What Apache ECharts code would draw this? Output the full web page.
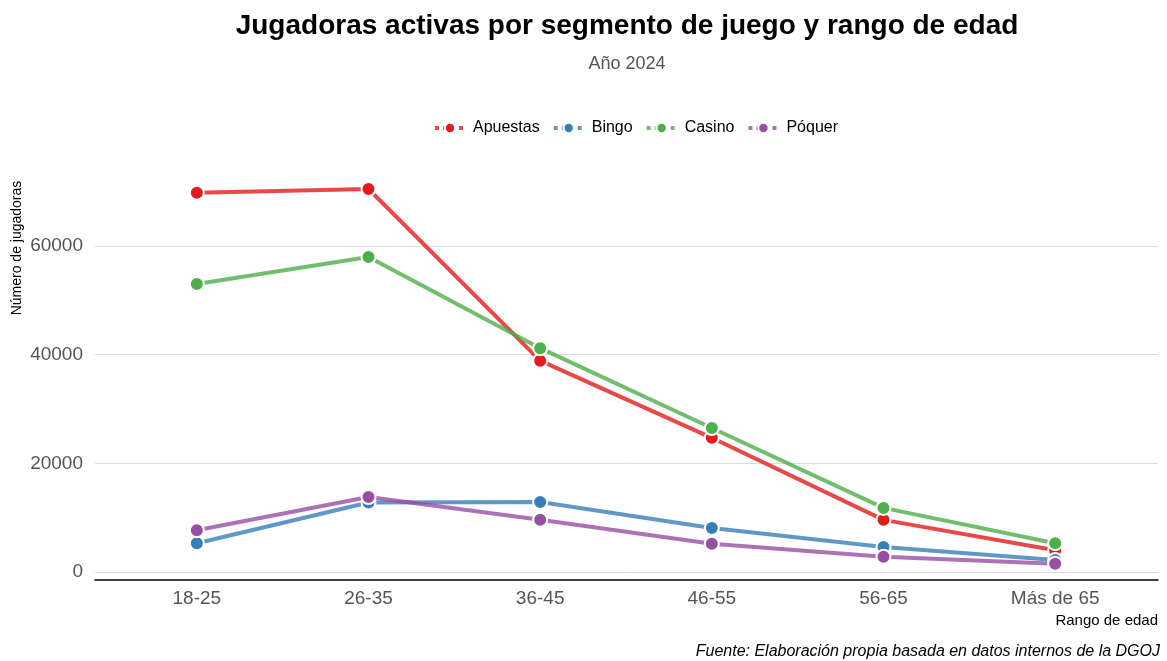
<!DOCTYPE html>
<html>
<head>
<meta charset="utf-8">
<style>
  html, body { margin: 0; padding: 0; background: #fff; }
  #main { width: 1167px; height: 661px; }
</style>
<script src="https://cdn.jsdelivr.net/npm/echarts@6/dist/echarts.min.js"></script>
</head>
<body>
<div id="main"></div>
<script>
  // rangos de edad
  var categories = ['18-25', '26-35', '36-45', '46-55', '56-65', 'Más de 65'];
  var apuestas = [69800, 70500, 38900, 24700, 9600, 4000];
  var bingo = [5300, 12800, 12900, 8100, 4600, 2200];
  var casino = [53000, 58000, 41200, 26500, 11800, 5300];
  var poquer = [7700, 13800, 9600, 5200, 2800, 1500];
  var colors = ['#E41A1C', '#377EB8', '#4DAF4A', '#984EA3'];

  var font = 'Liberation Sans, Arial, sans-serif';
  var myChart = echarts.init(document.getElementById('main'));

  function serie(name, data) {
    return {
      name: name,
      type: 'line',
      xAxisIndex: 0,
      yAxisIndex: 0,
      data: data,
      symbol: 'circle',
      symbolSize: 14,
      itemStyle: { borderColor: '#fff', borderWidth: 2 },
      lineStyle: { width: 4, opacity: 0.8 },
      emphasis: { disabled: true },
      animation: false
    };
  }

  myChart.setOption({
    color: colors,
    legend: {
      top: 115,
      left: 428,
      itemWidth: 30,
      itemHeight: 13,
      itemGap: 12,
      lineStyle: { type: 'dotted', width: 4 },
      textStyle: { fontFamily: font, fontSize: 16, color: '#000', padding: [0, 0, 0, 3] },
      data: ['Apuestas', 'Bingo', 'Casino', 'Póquer']
    },
    grid: [
      { left: 111, right: 26, top: 170, bottom: 89 },
      { left: 95, right: 9, top: 170, bottom: 89 }
    ],
    xAxis: [{
      type: 'category',
      gridIndex: 0,
      data: categories,
      boundaryGap: true,
      axisLine: { show: false },
      axisTick: { show: false },
      axisLabel: { margin: 17, fontFamily: font, fontSize: 19, color: '#555' }
    }, {
      type: 'value',
      gridIndex: 1,
      min: 0,
      max: 1,
      offset: 8,
      axisLine: { show: true, onZero: false, lineStyle: { color: '#000', width: 1.5 } },
      axisTick: { show: false },
      axisLabel: { show: false },
      splitLine: { show: false }
    }],
    yAxis: [{
      type: 'value',
      gridIndex: 0,
      min: 0,
      max: 74000,
      show: false
    }, {
      type: 'value',
      gridIndex: 1,
      min: 0,
      max: 74000,
      interval: 20000,
      axisLine: { show: false },
      axisTick: { show: false },
      axisLabel: {
        margin: 12,
        showMaxLabel: false,
        fontFamily: font,
        fontSize: 19,
        color: '#555',
        formatter: function (v) { return String(v); }
      },
      splitLine: { showMaxLine: false, lineStyle: { color: '#dcdcdc', width: 1 } }
    }],
    graphic: [{
      type: 'text',
      x: 627,
      y: 26,
      style: {
        text: 'Jugadoras activas por segmento de juego y rango de edad',
        fontFamily: font,
        fontSize: 28,
        fontWeight: 'bold',
        fill: '#000',
        textAlign: 'center',
        textVerticalAlign: 'middle'
      }
    }, {
      type: 'text',
      x: 627,
      y: 64,
      style: {
        text: 'Año 2024',
        fontFamily: font,
        fontSize: 18,
        fill: '#555',
        textAlign: 'center',
        textVerticalAlign: 'middle'
      }
    }, {
      type: 'text',
      x: 17,
      y: 248,
      rotation: Math.PI / 2,
      style: {
        text: 'Número de jugadoras',
        fontFamily: font,
        fontSize: 14,
        fill: '#000',
        textAlign: 'center',
        textVerticalAlign: 'middle'
      }
    }, {
      type: 'text',
      x: 1158,
      y: 621,
      style: {
        text: 'Rango de edad',
        fontFamily: font,
        fontSize: 15,
        fill: '#000',
        textAlign: 'right',
        textVerticalAlign: 'middle'
      }
    }, {
      type: 'text',
      x: 1160,
      y: 652,
      style: {
        text: 'Fuente: Elaboración propia basada en datos internos de la DGOJ',
        fontFamily: font,
        fontSize: 16,
        fontStyle: 'italic',
        fill: '#000',
        textAlign: 'right',
        textVerticalAlign: 'middle'
      }
    }],
    series: [
      serie('Apuestas', apuestas),
      serie('Bingo', bingo),
      serie('Casino', casino),
      serie('Póquer', poquer)
    ]
  });
</script>
</body>
</html>
